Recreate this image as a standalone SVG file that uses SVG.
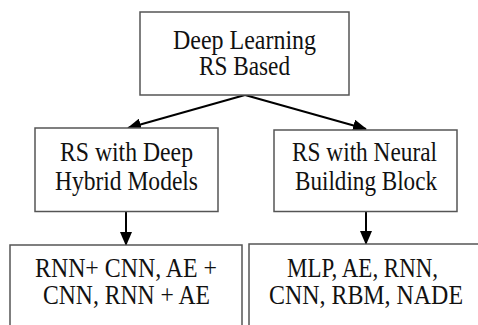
<svg xmlns="http://www.w3.org/2000/svg" width="478" height="325" viewBox="0 0 478 325">
<style>
.box{fill:#fff;stroke:#555;stroke-width:1.5}
.c{stroke:#000;stroke-width:2;fill:none}
</style>
<defs>
<marker id="ah" markerUnits="userSpaceOnUse" markerWidth="14" markerHeight="12" refX="13" refY="6" orient="auto">
<path d="M0,0 L14,6 L0,12 Z" fill="#000"/>
</marker>
</defs>
<rect width="478" height="325" fill="#fff"/>
<g id="connectors">
<line class="c" x1="245" y1="95" x2="128" y2="128" marker-end="url(#ah)"/>
<line class="c" x1="245" y1="95" x2="366" y2="129" marker-end="url(#ah)"/>
<line class="c" x1="126" y1="212" x2="126" y2="245" marker-end="url(#ah)"/>
<line class="c" x1="366" y1="212" x2="366" y2="244" marker-end="url(#ah)"/>
</g>
<g font-family="'Liberation Serif', 'Times New Roman', serif" font-size="27" fill="#111" text-anchor="middle">
<g id="root">
<rect class="box" x="140" y="12" width="209" height="83"/>
<text x="244.5" y="48.5" textLength="143" lengthAdjust="spacingAndGlyphs">Deep Learning</text>
<text x="244.5" y="74.5" textLength="91" lengthAdjust="spacingAndGlyphs">RS Based</text>
</g>
<g id="hybrid">
<rect class="box" x="35" y="128" width="183" height="83.5"/>
<text x="126.5" y="161" textLength="133" lengthAdjust="spacingAndGlyphs">RS with Deep</text>
<text x="126.5" y="189.5" textLength="143" lengthAdjust="spacingAndGlyphs">Hybrid Models</text>
</g>
<g id="neural">
<rect class="box" x="274" y="130" width="183" height="81.5"/>
<text x="364.5" y="161" textLength="145" lengthAdjust="spacingAndGlyphs">RS with Neural</text>
<text x="366" y="189.5" textLength="142" lengthAdjust="spacingAndGlyphs">Building Block</text>
</g>
<g id="hybrid-models">
<rect class="box" x="10" y="245" width="232" height="90"/>
<text x="126" y="277" textLength="182" lengthAdjust="spacingAndGlyphs">RNN+ CNN, AE +</text>
<text x="126.5" y="303.5" textLength="167" lengthAdjust="spacingAndGlyphs">CNN, RNN + AE</text>
</g>
<g id="neural-blocks">
<rect class="box" x="249" y="244" width="240" height="90"/>
<text x="362.5" y="277" textLength="151" lengthAdjust="spacingAndGlyphs">MLP, AE, RNN,</text>
<text x="366" y="303.5" textLength="194" lengthAdjust="spacingAndGlyphs">CNN, RBM, NADE</text>
</g>
</g>
</svg>
